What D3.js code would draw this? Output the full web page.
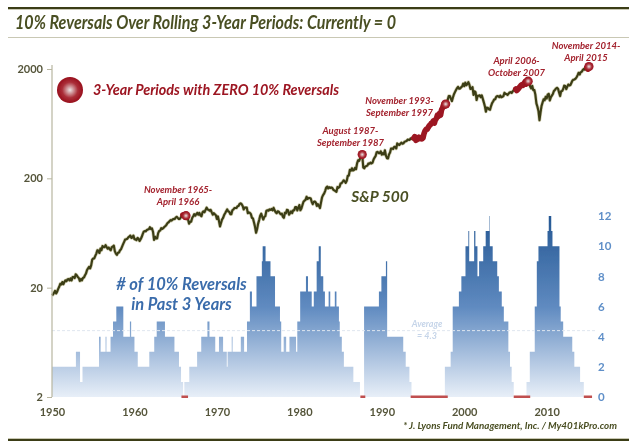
<!DOCTYPE html>
<html>
<head>
<meta charset="utf-8">
<script src="https://cdn.jsdelivr.net/npm/d3@7"></script>
<style>
	html, body { margin: 0; padding: 0; background: #fff; }
	svg { display: block; }
	text { font-family: Lato, "Open Sans", sans-serif; }
</style>
</head>
<body>
<div id="area"></div>
<script>

//S&P 500 readings, eight per year starting at 1950
var spx_start = 1950;
var spx_per_year = 8;
var spx_values = [
	17.0, 17.3, 18.0, 18.7, 17.7, 18.4, 19.5, 20.4,
	21.7, 21.4, 22.5, 21.5, 22.5, 23.3, 22.9, 23.8,
	24.0, 23.3, 24.3, 23.3, 25.0, 25.0, 24.5, 26.5,
	26.0, 25.0, 24.5, 23.0, 24.0, 23.3, 24.5, 24.8,
	26.0, 27.0, 29.0, 30.0, 31.0, 30.0, 32.0, 36.0,
	37.0, 37.0, 39.0, 41.0, 44.0, 43.5, 41.5, 45.5,
	44.0, 48.0, 47.0, 47.0, 49.0, 47.0, 45.5, 46.5,
	45.0, 44.0, 47.0, 47.5, 48.5, 43.0, 41.0, 39.9,
	41.7, 42.0, 44.0, 45.0, 47.5, 50.0, 52.5, 55.2,
	55.4, 56.0, 57.6, 58.5, 60.0, 57.0, 57.5, 59.9,
	55.6, 55.3, 54.4, 57.0, 56.0, 53.5, 55.5, 58.1,
	61.8, 65.0, 65.8, 65.5, 67.4, 68.0, 68.6, 71.5,
	68.8, 69.6, 65.0, 54.7, 58.5, 56.3, 56.5, 63.1,
	66.0, 66.6, 70.0, 69.0, 70.0, 72.0, 73.0, 75.0,
	77.8, 79.0, 81.0, 83.0, 82.0, 84.0, 85.0, 84.8,
	87.6, 89.0, 87.0, 85.0, 85.0, 88.0, 92.0, 92.4,
	92.9, 89.0, 91.0, 85.0, 84.0, 77.0, 80.0, 80.3,
	86.6, 90.0, 94.0, 91.0, 94.0, 96.7, 93.0, 96.5,
	92.0, 90.0, 97.5, 100, 98.0, 103, 108, 103.8,
	103, 101, 103, 97.7, 93.0, 96.0, 94.0, 92.0,
	85.0, 89.6, 81.5, 72.7, 78.0, 84.0, 87.0, 92.2,
	95.9, 100, 104, 99.7, 99.0, 94.0, 93.9, 102,
	103.9, 107, 107, 107, 111, 111.6, 116.7, 118,
	116, 111.7, 104, 108, 108, 108, 96.0, 97.6,
	96.6, 94.0, 87.0, 86.0, 79.0, 72.0, 63.5, 68.6,
	77.0, 83.0, 91.0, 95.0, 89.0, 84.0, 89.0, 90.2,
	100.9, 102, 101, 104, 103, 105, 102, 107.5,
	102, 98.0, 96.0, 100, 99.0, 96.0, 94.0, 95.1,
	89.0, 87.0, 97.0, 96.0, 103, 102, 93.0, 96.1,
	99.9, 96.3, 102, 102, 109, 109, 101.8, 107.9,
	114, 102, 106, 114, 122, 125, 127, 135.8,
	129.5, 132, 132, 131, 122, 116, 122, 122.6,
	120, 111.9, 116, 111.9, 107, 120, 133.7, 140.6,
	145, 153, 164, 168, 162, 166, 163, 164.9,
	163, 157, 155, 153, 150.7, 166.7, 163.6, 167.2,
	179.6, 180.7, 186, 192, 188, 182, 189.8, 211.3,
	211.8, 238.9, 235.5, 247, 236, 238, 249, 242.2,
	274, 292, 289, 304, 318.7, 329.8, 251.8, 247.1,
	257, 258.9, 261.3, 273.5, 271.9, 278, 273.7, 277.7,
	297.5, 309.6, 320.5, 346, 349, 340, 340.4, 353.4,
	329, 339.9, 330.8, 361, 322.6, 306, 304, 330.2,
	343.9, 375, 375.3, 371, 387.8, 387.9, 375, 417.1,
	408.8, 403.7, 415, 424, 414, 418.7, 431, 435.7,
	438.8, 451.7, 450, 450, 463.6, 458.9, 467, 466.5,
	481.6, 445.8, 450.9, 458, 475, 462.7, 472, 459.3,
	470, 514.7, 544.7, 562, 561.9, 584, 605, 615.9,
	636, 645.5, 670.6, 639.9, 687, 705, 757, 740.7,
	786, 757, 848, 885, 947, 914.6, 955, 970.4,
	1049, 1133, 1133, 1072, 1017, 1098, 1176, 1229,
	1286, 1335, 1372, 1320, 1328, 1362, 1388, 1469,
	1394, 1499, 1421, 1455, 1517, 1437, 1315, 1320,
	1366, 1160, 1249, 1224, 1041, 1140, 1140, 1148,
	1106, 1147, 1067, 990, 912, 815, 886, 880,
	856, 848, 917, 975, 1008, 1050, 1058, 1112,
	1131, 1126, 1107, 1141, 1104, 1115, 1130, 1212,
	1181, 1181, 1157, 1191, 1220, 1229, 1207, 1248,
	1280, 1295, 1311, 1270, 1303, 1336, 1378, 1418,
	1438, 1421, 1482, 1531, 1455, 1527, 1549, 1468,
	1379, 1331, 1400, 1280, 1283, 1166, 969, 903,
	826, 680, 798, 919, 988, 1057, 1036, 1115,
	1074, 1169, 1187, 1031, 1102, 1141, 1183, 1258,
	1286, 1326, 1345, 1320, 1219, 1131, 1253, 1258,
	1312, 1409, 1398, 1310, 1379, 1441, 1412, 1426,
	1498, 1569, 1598, 1606, 1632, 1681, 1757, 1848,
	1783, 1872, 1884, 1960, 2003, 1972, 2018, 2059,
	1995, 2105, 2090
];

//Reversal count: each value holds from its year until the next year
var count_years = [
	1950, 1952.9, 1953.4, 1953.7, 1955.7, 1955.9, 1956.5, 1956.6, 1957.1, 1957.4, 1957.8, 1958.65,
	1959.45, 1959.6, 1960, 1960.4, 1961.8, 1962.4, 1962.7, 1963.7, 1964.85, 1965.4, 1965.65, 1965.9,
	1966.05, 1966.65, 1967.6, 1968.1, 1968.85, 1969.1, 1969.8, 1970.25, 1970.75, 1971.2, 1971.3, 1971.8,
	1971.9, 1972.9, 1973.3, 1973.65, 1974, 1974.25, 1974.8, 1975.45, 1975.55, 1975.9, 1976.5, 1977.05,
	1977.65, 1977.8, 1978.1, 1978.4, 1978.8, 1979.6, 1979.75, 1980.1, 1980.8, 1981.05, 1981.5, 1981.75,
	1982.1, 1982.35, 1982.6, 1982.9, 1983.1, 1983.55, 1983.75, 1984.3, 1984.5, 1984.8, 1984.9, 1985.15,
	1985.4, 1986.55, 1987.35, 1987.85, 1989.65, 1989.95, 1990.5, 1990.65, 1992.6, 1992.9, 1993.35, 1993.6,
	1997.65, 1998.35, 1998.6, 1999.35, 1999.65, 2000.15, 2000.5, 2000.6, 2001.2, 2001.35, 2001.6, 2001.8,
	2002.3, 2002.6, 2003.05, 2003.1, 2003.45, 2004, 2004.2, 2004.55, 2004.8, 2005.35, 2005.55, 2005.75,
	2006, 2007.55, 2007.95, 2008.55, 2008.8, 2009, 2010.1, 2010.25, 2010.55, 2010.7, 2011.55, 2011.7,
	2012, 2013.1, 2013.35, 2014.05, 2014.5, 2015.3
];
var count_values = [
	2, 3, 1, 2, 4, 3, 4, 3, 4, 5, 6, 4,
	5, 4, 3, 2, 3, 4, 5, 4, 3, 2, 1, 0,
	1, 2, 3, 4, 5, 4, 3, 4, 3, 2, 3, 4,
	3, 4, 3, 5, 7, 6, 8, 9, 10, 9, 8, 6,
	5, 3, 4, 3, 4, 3, 5, 7, 8, 7, 6, 7,
	9, 10, 8, 7, 6, 7, 6, 7, 6, 5, 4, 3,
	2, 1, 0, 6, 7, 8, 9, 4, 3, 2, 1, 0,
	2, 3, 6, 7, 8, 10, 11, 9, 11, 10, 8, 9,
	10, 11, 12, 10, 9, 8, 7, 6, 5, 3, 2, 1,
	0, 1, 3, 6, 9, 10, 11, 12, 11, 10, 6, 5,
	4, 3, 2, 1, 0, 0
];

//Periods with zero reversals
var zero_labels = [
	["November 1965-", "April 1966"],
	["August 1987-", "September 1987"],
	["November 1993-", "September 1997"],
	["April 2006-", "October 2007"],
	["November 2014-", "April 2015"]
];
var zero_starts = [1965.85, 1987.6, 1993.85, 2006.3, 2014.85];
var zero_ends = [1966.3, 1987.65, 1997.7, 2007.8, 2015.1];
var zero_band_starts = [1965.7, 1987.4, 1993.5, 2006, 2014.5];
var zero_band_ends = [1966.5, 1988, 1998, 2008, 2015.5];

var x_ticks = [1950, 1960, 1970, 1980, 1990, 2000, 2010];
var price_ticks = [2, 20, 200, 2000];
var count_ticks = [0, 2, 4, 6, 8, 10, 12];
var average_level = 4.4;

var width = 635;
var height = 446;

var olive = '#4a4f24';
var dark_olive = '#3a3c12';
var red = '#9c1420';
var blue = '#3a6cab';

var x = d3.scaleLinear().domain([1950, 2010]).range([52, 546.7]);
var y_price = d3.scaleLog().domain([2, 2000]).range([397, 69]);
var y_count = d3.scaleLinear().domain([0, 12]).range([397, 216]);

var svg = d3.select('#area').append('svg')
	.attr('width', width)
	.attr('height', height);

var defs = svg.append('defs');

//Softening, the reference is a scaled-up image
defs.append('filter').attr('id', 'soft')
	.append('feGaussianBlur').attr('stdDeviation', 0.5);

var bar_gradient = defs.append('linearGradient')
	.attr('id', 'bar-fill')
	.attr('gradientUnits', 'userSpaceOnUse')
	.attr('x1', 0).attr('x2', 0)
	.attr('y1', y_count(12)).attr('y2', y_count(0));
bar_gradient.append('stop').attr('offset', '0%').attr('stop-color', '#255894');
bar_gradient.append('stop').attr('offset', '50%').attr('stop-color', '#5f8ac0');
bar_gradient.append('stop').attr('offset', '100%').attr('stop-color', '#e8eff8');

var dot_gradient = defs.append('radialGradient').attr('id', 'dot-fill');
dot_gradient.append('stop').attr('offset', '0%').attr('stop-color', '#ece4e4');
dot_gradient.append('stop').attr('offset', '60%').attr('stop-color', '#ab2f39');
dot_gradient.append('stop').attr('offset', '100%').attr('stop-color', '#980f1c');

var chart = svg.append('g').attr('filter', 'url(#soft)');

//Frame rules
chart.append('rect').attr('x', 8).attr('y', 7).attr('width', 621).attr('height', 2).attr('fill', dark_olive);
chart.append('rect').attr('x', 8).attr('y', 9).attr('width', 621).attr('height', 1).attr('fill', '#c9c8b4');
chart.append('rect').attr('x', 8).attr('y', 37).attr('width', 621).attr('height', 1).attr('fill', '#c9c8b4');
chart.append('rect').attr('x', 8).attr('y', 438).attr('width', 621).attr('height', 1).attr('fill', '#c9c8b4');
chart.append('rect').attr('x', 8).attr('y', 439).attr('width', 621).attr('height', 2).attr('fill', dark_olive);

//Title squeezed to the reference width, Lato runs wider than the original font
chart.append('text')
	.attr('x', 15).attr('y', 29)
	.attr('font-size', 18).attr('font-weight', 700).attr('font-style', 'italic')
	.attr('textLength', 381).attr('lengthAdjust', 'spacingAndGlyphs')
	.attr('fill', olive)
	.text('10% Reversals Over Rolling 3-Year Periods: Currently = 0');

//Reversal count as a stepped area
var count_rows = count_years.map(function(year, i){
	return { year: year, value: count_values[i] };
});
var count_area = d3.area()
	.x(function(d){ return x(d.year); })
	.y0(y_count(0))
	.y1(function(d){ return y_count(d.value); })
	.curve(d3.curveStepAfter);
chart.append('path').attr('d', count_area(count_rows)).attr('fill', 'url(#bar-fill)');

//Average line
chart.append('line')
	.attr('x1', x(1950)).attr('x2', 595)
	.attr('y1', y_count(average_level)).attr('y2', y_count(average_level))
	.attr('stroke', '#dfe6ef').attr('stroke-width', 1).attr('stroke-dasharray', '3,2');
chart.append('text').attr('x', 427).attr('y', 327)
	.attr('text-anchor', 'middle').attr('font-size', 9).attr('font-style', 'italic').attr('font-weight', 700)
	.attr('fill', '#c6d5e9').text('Average');
chart.append('text').attr('x', 427).attr('y', 339)
	.attr('text-anchor', 'middle').attr('font-size', 9).attr('font-style', 'italic').attr('font-weight', 700)
	.attr('fill', '#c6d5e9').text('= 4.3');

//Red bands on the baseline where the count is zero
chart.selectAll('.zero-band').data(zero_band_starts).enter().append('rect')
	.attr('class', 'zero-band')
	.attr('x', function(d){ return x(d); })
	.attr('y', y_count(0) - 1.5)
	.attr('width', function(d, i){ return x(zero_band_ends[i]) - x(d); })
	.attr('height', 2.5)
	.attr('fill', '#c0504f');

//S&P 500 line with a pale halo under it
var spx_rows = spx_values.map(function(value, i){
	return { year: spx_start + i / spx_per_year, value: value };
});
var spx_line = d3.line()
	.x(function(d){ return x(d.year); })
	.y(function(d){ return y_price(d.value); });
chart.append('path').attr('d', spx_line(spx_rows))
	.attr('fill', 'none').attr('stroke', '#cfcdb0').attr('stroke-width', 3.4).attr('stroke-linejoin', 'round');
chart.append('path').attr('d', spx_line(spx_rows))
	.attr('fill', 'none').attr('stroke', dark_olive).attr('stroke-width', 2.1).attr('stroke-linejoin', 'round');

//Zero-reversal stretches drawn over the line
zero_starts.forEach(function(start, i){
	var rows = spx_rows.filter(function(d){ return d.year >= start - 0.07 && d.year <= zero_ends[i] + 0.07; });
	chart.append('path').attr('d', spx_line(rows))
		.attr('fill', 'none').attr('stroke', red).attr('stroke-width', 5.6)
		.attr('stroke-linecap', 'round').attr('stroke-linejoin', 'round');

	var last = rows[rows.length - 1];
	chart.append('circle')
		.attr('cx', x(last.year)).attr('cy', y_price(last.value)).attr('r', 4.6)
		.attr('fill', 'url(#dot-fill)');
});

//Period labels
var label_x = [178, 350.5, 399.5, 516.5, 586];
var label_y = [193, 134, 104, 64, 49];
zero_labels.forEach(function(lines, i){
	lines.forEach(function(line, j){
		chart.append('text')
			.attr('x', label_x[i]).attr('y', label_y[i] + j * 12)
			.attr('text-anchor', 'middle')
			.attr('font-size', 9.5).attr('font-weight', 700).attr('font-style', 'italic')
			.attr('fill', '#a3222e')
			.text(line);
	});
});

//Legend
chart.append('circle').attr('cx', 70).attr('cy', 90).attr('r', 13).attr('fill', 'url(#dot-fill)');
chart.append('text').attr('x', 93).attr('y', 94.5)
	.attr('font-size', 14.4).attr('font-weight', 700).attr('font-style', 'italic')
	.attr('fill', red).text('3-Year Periods with ZERO 10% Reversals');

chart.append('text').attr('x', 380).attr('y', 202)
	.attr('text-anchor', 'middle').attr('font-size', 15.5).attr('font-weight', 700).attr('font-style', 'italic')
	.attr('fill', olive).text('S&P 500');

chart.append('text').attr('x', 181.5).attr('y', 290)
	.attr('text-anchor', 'middle').attr('font-size', 16.5).attr('font-weight', 700).attr('font-style', 'italic')
	.attr('fill', blue).text('# of 10% Reversals');
chart.append('text').attr('x', 181.5).attr('y', 310)
	.attr('text-anchor', 'middle').attr('font-size', 16.5).attr('font-weight', 700).attr('font-style', 'italic')
	.attr('fill', blue).text('in Past 3 Years');

chart.append('text').attr('x', 617).attr('y', 429)
	.attr('text-anchor', 'end').attr('font-size', 9.8).attr('font-weight', 700).attr('font-style', 'italic')
	.attr('fill', olive).text('* J. Lyons Fund Management, Inc. / My401kPro.com');

//Axes
var axis_left = d3.axisLeft(y_price).tickValues(price_ticks).tickFormat(d3.format('d')).tickSize(5).tickPadding(4);
var left_group = chart.append('g').attr('transform', 'translate(52,0)').call(axis_left);
left_group.select('.domain').remove();
left_group.selectAll('line').attr('stroke', '#b8b6a0');
left_group.append('line').attr('y1', 65).attr('y2', 397).attr('stroke', '#b8b6a0').attr('stroke-width', 1.2);

var axis_bottom = d3.axisBottom(x).tickValues(x_ticks).tickFormat(d3.format('d')).tickSize(0).tickPadding(11);
var bottom_group = chart.append('g').attr('transform', 'translate(0,397)').call(axis_bottom);
bottom_group.select('.domain').remove();

var axis_right = d3.axisRight(y_count).tickValues(count_ticks).tickSize(0).tickPadding(0);
var right_group = chart.append('g').attr('transform', 'translate(598,0)').call(axis_right);
right_group.select('.domain').remove();

left_group.selectAll('text').attr('font-size', 11).attr('font-weight', 700).attr('font-family', 'Lato').attr('fill', '#55553a');
bottom_group.selectAll('text').attr('font-size', 11).attr('font-weight', 700).attr('font-family', 'Lato').attr('fill', '#55553a');
right_group.selectAll('text').attr('font-size', 11.5).attr('font-weight', 700).attr('font-family', 'Lato').attr('fill', '#5f8fc8');

</script>
</body>
</html>
